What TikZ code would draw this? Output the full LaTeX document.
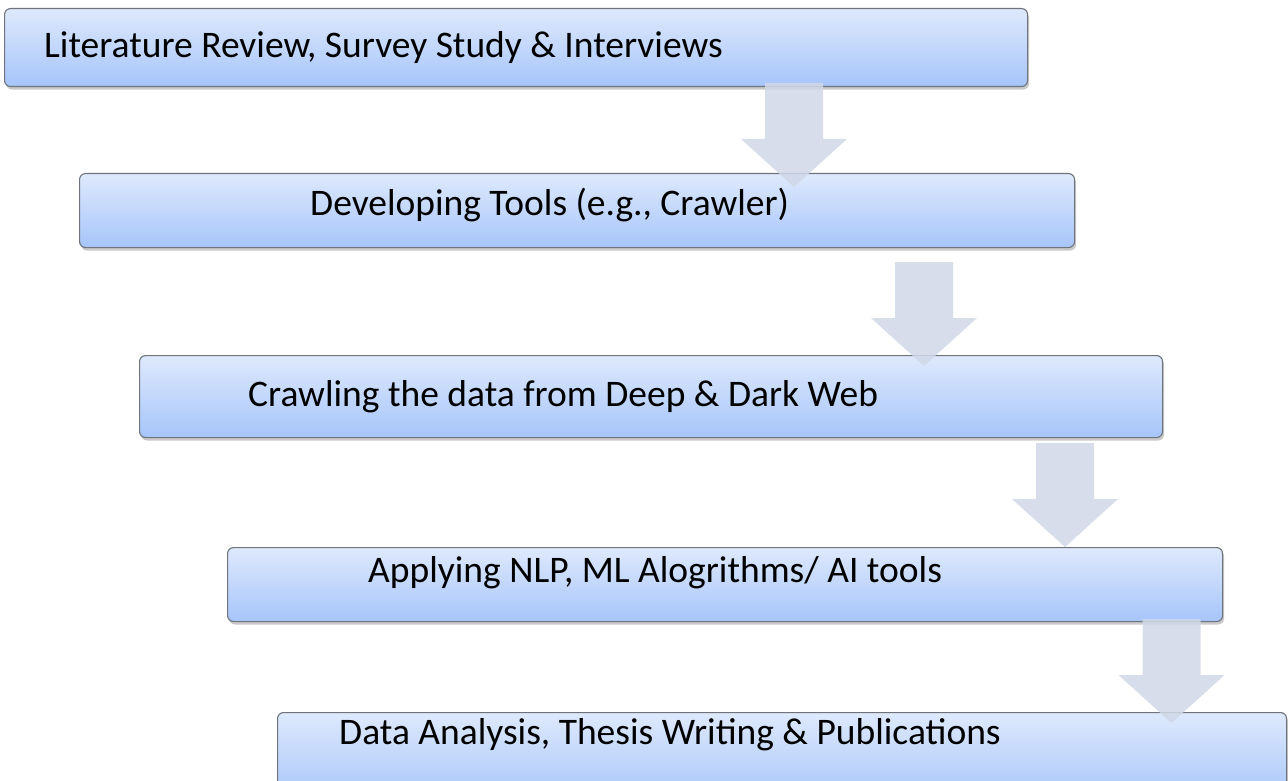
\documentclass[tikz,border=0pt]{standalone}
\usepackage{fontspec}
\setmainfont{Carlito}
\usetikzlibrary{shadows,calc}
\definecolor{boxtop}{HTML}{DEE9FC}
\definecolor{boxbot}{HTML}{A6C5FA}
\definecolor{boxline}{HTML}{6F747C}
\definecolor{arrfill}{HTML}{D0D8E7}
\tikzset{
  stepbox/.style={draw=boxline, line width=1.1pt, rounded corners=6pt,
    top color=boxtop, bottom color=boxbot, inner sep=0pt, anchor=north west,
    drop shadow={shadow xshift=1.5pt, shadow yshift=-3pt, opacity=0.35, fill=black!60}},
  steptext/.style={anchor=base west, inner sep=0pt, font=\fontsize{37.5}{44}\selectfont},
  blockarrow/.style={fill=arrfill, draw=none, fill opacity=0.85}
}
\newcommand{\blockarr}[3]{% center x, top y, name
  \coordinate (#3top) at (#1,#2);
  \coordinate (#3tip) at (#1,#2+104);
  \fill[blockarrow] ($(#3top)+(-29,0)$) -- ($(#3top)+(29,0)$) -- ($(#3top)+(29,56)$)
    -- ($(#3top)+(53,56)$) -- (#3tip) -- ($(#3top)+(-53,56)$) -- ($(#3top)+(-29,56)$) -- cycle;}
\begin{document}
\begin{tikzpicture}[x=1pt,y=-1pt]
\useasboundingbox (0,0) rectangle (1288,781);
\fill[white] (0,0) rectangle (1288,781);

\node[stepbox, minimum width=1023pt, minimum height=78pt] (b1) at (4,8) {};
\node[stepbox, minimum width=995pt, minimum height=74pt] (b2) at (79,173) {};
\node[stepbox, minimum width=1023pt, minimum height=82pt] (b3) at (139,355) {};
\node[stepbox, minimum width=995pt, minimum height=74pt] (b4) at (227,547) {};
\node[stepbox, minimum width=1009pt, minimum height=90pt] (b5) at (277,712) {};

\node[steptext] (t1) at (44,58) {Literature Review, Survey Study \& Interviews};
\node[steptext] (t2) at (310,215) {Developing Tools (e.g., Crawler)};
\node[steptext] (t3) at (248,406) {Crawling the data from Deep \& Dark Web};
\node[steptext] (t4) at (368,582) {Applying NLP, ML Alogrithms/ AI tools};
\node[steptext] (t5) at (339,744) {Data Analysis, Thesis Writing \& Publications};

\blockarr{794}{83}{a1}
\blockarr{924}{262}{a2}
\blockarr{1065}{443}{a3}
\blockarr{1171.5}{619}{a4}
\end{tikzpicture}
\end{document}
